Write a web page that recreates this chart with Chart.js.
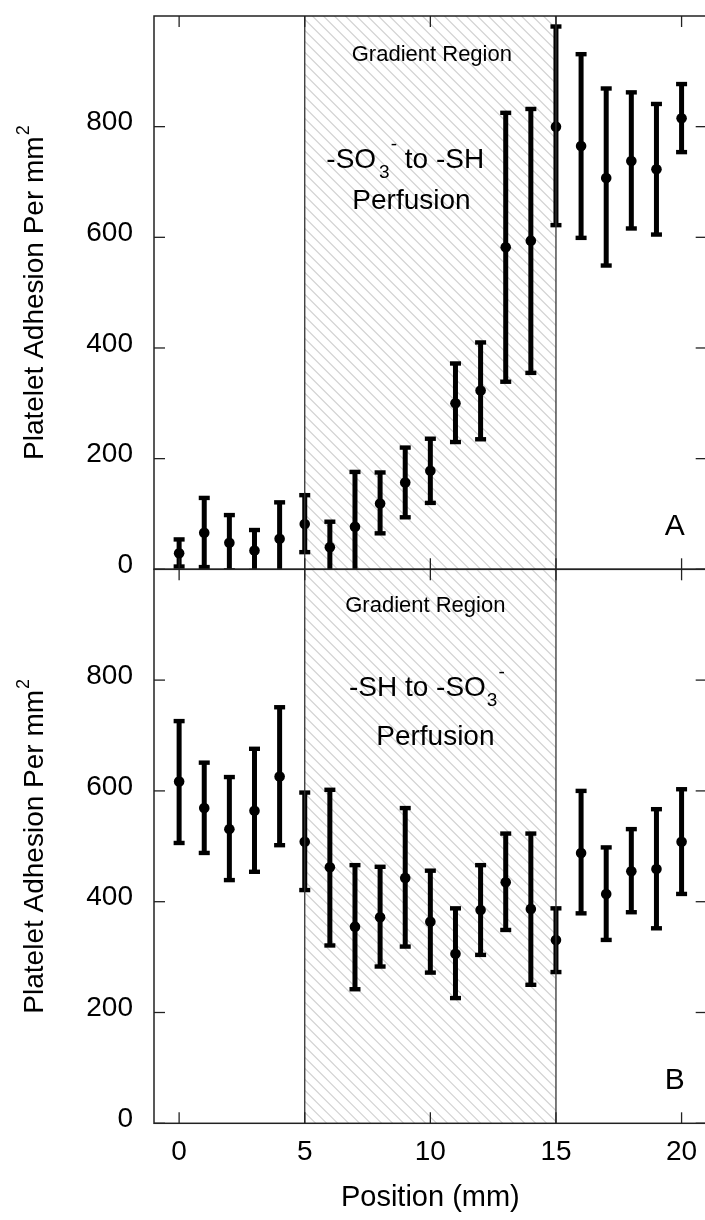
<!DOCTYPE html>
<html>
<head>
<meta charset="utf-8">
<script src="https://cdn.jsdelivr.net/npm/chart.js@4.4.0/dist/chart.umd.min.js"></script>
<style>
  html, body { margin: 0; padding: 0; background: #fff; overflow: hidden; }
  #wrap { position: relative; width: 705px; height: 1220px; overflow: hidden; }
  canvas { position: absolute; left: 0; }
  #chartA { top: 0; }
  #chartB { top: 560px; }
</style>
</head>
<body>
<div id="wrap">
  <canvas id="chartA" width="712" height="600"></canvas>
  <canvas id="chartB" width="712" height="660"></canvas>
</div>
<script>
const positions = [0, 1, 2, 3, 4, 5, 6, 7, 8, 9, 10, 11, 12, 13, 14, 15, 16, 17, 18, 19, 20]

// panel A: -SO3- to -SH perfusion
const meanA = [29, 66, 48, 34, 55, 82, 40, 77, 119, 157, 178, 300, 323, 582, 594, 800, 765, 707, 738, 723, 815]
const upperA = [54, 129, 98, 71, 121, 134, 86, 176, 175, 220, 236, 372, 410, 825, 832, 981, 931, 869, 862, 841, 877]
const lowerA = [5, 4, -2, -3, -11, 31, -6, -22, 65, 94, 120, 230, 235, 339, 355, 622, 599, 549, 616, 605, 754]

// panel B: -SH to -SO3- perfusion
const meanB = [617, 569, 531, 564, 626, 508, 462, 355, 372, 443, 364, 306, 385, 435, 387, 331, 488, 414, 455, 459, 508]
const upperB = [726, 651, 625, 676, 751, 597, 602, 466, 463, 569, 456, 388, 466, 523, 523, 388, 600, 498, 531, 567, 603]
const lowerB = [506, 488, 439, 454, 502, 421, 321, 242, 283, 319, 272, 226, 304, 349, 250, 273, 379, 331, 381, 352, 414]

const xTicks = [0, 5, 10, 15, 20]
const yTicks = [0, 200, 400, 600, 800]
const gradientRegion = [5, 15]

const FONT = "'Liberation Sans', Arial, sans-serif"
Chart.defaults.font.family = FONT
Chart.defaults.color = '#000'

function drawRich(ctx, parts, cx, baseline) {
  let total = 0
  parts.forEach(p => {
    ctx.font = p.size + 'px ' + FONT
    p.w = ctx.measureText(p.t).width + (p.gap || 0)
    total += p.w
  })
  let px = cx - total / 2
  ctx.textAlign = 'left'
  ctx.textBaseline = 'alphabetic'
  parts.forEach(p => {
    ctx.font = p.size + 'px ' + FONT
    ctx.fillText(p.t, px + (p.gap || 0), baseline + (p.dy || 0))
    px += p.w
  })
}

function line(ctx, x1, y1, x2, y2) {
  ctx.beginPath(); ctx.moveTo(x1, y1); ctx.lineTo(x2, y2); ctx.stroke()
}

function panelPlugin(p) {
  return {
    id: 'panel' + p.letter,
    beforeDatasetsDraw(chart) {
      const { ctx, chartArea: a, scales: { x, y } } = chart
      const gx0 = x.getPixelForValue(gradientRegion[0])
      const gx1 = x.getPixelForValue(gradientRegion[1])

      // hatched gradient region
      ctx.save()
      ctx.beginPath(); ctx.rect(gx0, a.top, gx1 - gx0, a.bottom - a.top); ctx.clip()
      ctx.strokeStyle = '#d2d2d2'; ctx.lineWidth = 1.2
      const h = a.bottom - a.top
      for (let sx = gx0 - h; sx < gx1; sx += 11) line(ctx, sx, a.top, sx + h, a.bottom)
      ctx.restore()

      // annotations
      ctx.save()
      ctx.fillStyle = '#000'
      p.notes.forEach(n => drawRich(ctx, n.parts, x.getPixelForValue(n.x), a.top + n.dy))
      ctx.font = '30px ' + FONT
      ctx.textAlign = 'center'
      ctx.fillText(p.letter, x.getPixelForValue(19.73), a.bottom - 34.5)
      ctx.restore()

      // error bars
      ctx.save()
      ctx.beginPath(); ctx.rect(a.left, a.top, a.width, a.height); ctx.clip()
      ctx.strokeStyle = '#000'; ctx.fillStyle = '#000'; ctx.lineWidth = 5
      positions.forEach((pos, i) => {
        const px = x.getPixelForValue(pos)
        const top = y.getPixelForValue(p.upper[i])
        const bot = y.getPixelForValue(p.lower[i])
        line(ctx, px, top, px, bot)
        ctx.fillRect(px - 5.5, top - 2.2, 11, 4.4)
        ctx.fillRect(px - 5.5, bot - 2.2, 11, 4.4)
      })
      ctx.restore()
    },
    afterDraw(chart) {
      const { ctx, chartArea: a, scales: { x, y } } = chart
      ctx.save()
      // region boundaries
      ctx.strokeStyle = '#333'; ctx.lineWidth = 1.3
      gradientRegion.forEach(v => {
        const px = x.getPixelForValue(v)
        line(ctx, px, a.top, px, a.bottom)
      })
      // inward ticks
      ctx.strokeStyle = '#222'
      yTicks.forEach(v => {
        const py = y.getPixelForValue(v)
        line(ctx, a.left, py, a.left + 11, py)
        line(ctx, a.right, py, a.right - 11, py)
      })
      xTicks.forEach(v => {
        const px = x.getPixelForValue(v)
        line(ctx, px, a.top, px, a.top + 11)
        line(ctx, px, a.bottom, px, a.bottom - 11)
      })
      // frame
      ctx.lineWidth = 1.5
      ctx.strokeRect(a.left, a.top, a.right - a.left, a.bottom - a.top)

      // y axis title with superscript
      ctx.fillStyle = '#000'
      ctx.translate(43, (a.top + a.bottom) / 2)
      ctx.rotate(-Math.PI / 2)
      ctx.textAlign = 'left'; ctx.textBaseline = 'alphabetic'
      ctx.font = '28px ' + FONT
      const main = 'Platelet Adhesion Per mm'
      const w1 = ctx.measureText(main).width
      ctx.font = '18px ' + FONT
      const w2 = ctx.measureText('2').width
      const start = -(w1 + w2 + 1) / 2
      ctx.font = '28px ' + FONT
      ctx.fillText(main, start, 0)
      ctx.font = '18px ' + FONT
      ctx.fillText('2', start + w1 + 1, -14)
      ctx.restore()
    }
  }
}

function makeChart(id, p, showX) {
  const xScale = {
    type: 'linear', min: -1, max: 21, display: showX,
    afterBuildTicks: s => { s.ticks = xTicks.map(v => ({ value: v })) },
    grid: { display: false }, border: { display: false },
    ticks: { font: { size: 28 }, color: '#000', padding: 4, maxRotation: 0, autoSkip: false, callback: v => v }
  }
  if (showX) {
    xScale.afterFit = s => { s.height = 96.7; s.paddingLeft = 0; s.paddingRight = 0 }
    xScale.title = { display: true, text: 'Position (mm)', font: { size: 29 }, color: '#000', padding: { top: 0, bottom: 5 } }
  }
  return new Chart(document.getElementById(id), {
    type: 'scatter',
    data: {
      datasets: [{
        data: positions.map((v, i) => ({ x: v, y: p.mean[i] })),
        pointRadius: 5.3,
        pointBackgroundColor: '#000',
        pointBorderWidth: 0
      }]
    },
    options: {
      responsive: false,
      animation: false,
      layout: { padding: p.padding },
      plugins: { legend: { display: false }, tooltip: { enabled: false } },
      scales: {
        x: xScale,
        y: {
          min: 0, max: 1000,
          afterBuildTicks: s => { s.ticks = yTicks.map(v => ({ value: v })) },
          afterFit: s => { s.width = 154; s.paddingTop = 0; s.paddingBottom = 0 },
          grid: { display: false }, border: { display: false },
          ticks: { font: { size: 28 }, color: '#000', padding: 13, labelOffset: -4, callback: v => v }
        }
      }
    },
    plugins: [panelPlugin(p)]
  })
}

makeChart('chartA', {
  letter: 'A', mean: meanA, upper: upperA, lower: lowerA,
  padding: { top: 16, left: 0, right: 4, bottom: 30.7 },
  notes: [
    { x: 10.06, dy: 45, parts: [{ t: 'Gradient Region', size: 22 }] },
    { x: 9.0, dy: 152, parts: [{ t: '-SO', size: 28 }, { t: '3', size: 19, dy: 10, gap: 3 }, { t: '-', size: 19, dy: -18, gap: 1 }, { t: ' to -SH', size: 28 }] },
    { x: 9.25, dy: 193, parts: [{ t: 'Perfusion', size: 28 }] }
  ]
}, false)

makeChart('chartB', {
  letter: 'B', mean: meanB, upper: upperB, lower: lowerB,
  padding: { top: 9.3, left: 0, right: 4, bottom: 0 },
  notes: [
    { x: 9.8, dy: 42.7, parts: [{ t: 'Gradient Region', size: 22 }] },
    { x: 9.86, dy: 126.7, parts: [{ t: '-SH to -SO', size: 28 }, { t: '3', size: 19, dy: 10, gap: 1 }, { t: '-', size: 19, dy: -18, gap: 1 }] },
    { x: 10.2, dy: 175.7, parts: [{ t: 'Perfusion', size: 28 }] }
  ]
}, true)
</script>
</body>
</html>
